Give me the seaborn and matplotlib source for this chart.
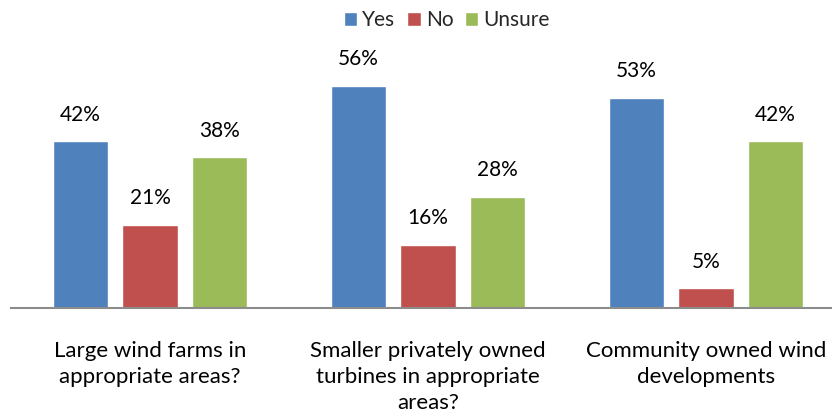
import matplotlib
matplotlib.use("Agg")
import matplotlib.pyplot as plt
import seaborn as sns
import pandas as pd

categories = [
    "Large wind farms in\nappropriate areas?",
    "Smaller privately owned\nturbines in appropriate\nareas?",
    "Community owned wind\ndevelopments",
]
answers = ["Yes", "No", "Unsure"]
yes_pct = [42, 56, 53]
no_pct = [21, 16, 5]
unsure_pct = [38, 28, 42]
colors = ["#4F81BD", "#C0504D", "#9BBB59"]

rows = []
for i, cat in enumerate(categories):
    for ans, vals in zip(answers, [yes_pct, no_pct, unsure_pct]):
        rows.append({"category": cat, "answer": ans, "pct": vals[i]})
df = pd.DataFrame(rows)

sns.set_theme(style="white")
plt.rcParams["font.family"] = ["Lato", "DejaVu Sans"]

fig = plt.figure(figsize=(8.32, 4.17), dpi=100)
ax = fig.add_axes([11 / 832, 1 - 308 / 417, 821 / 832, 238 / 417])

sns.barplot(data=df, x="category", y="pct", hue="answer", order=categories,
            hue_order=answers, palette=colors, width=0.75, gap=0.2,
            saturation=1, ax=ax, legend=True)

for cont in ax.containers:
    ax.bar_label(cont, labels=[f"{int(v)}%" for v in cont.datavalues],
                 padding=12, fontsize=15, color="#000000")

ax.set_xlim(-0.5, -0.5 + 821 / 278)
ax.set_ylim(0, 60)
ax.set_xlabel("")
ax.set_ylabel("")
ax.set_yticks([])
ax.tick_params(axis="x", length=0, pad=24, labelsize=16, colors="#000000")
for lbl in ax.get_xticklabels():
    lbl.set_linespacing(1.35)
for side in ["top", "right", "left"]:
    ax.spines[side].set_visible(False)
ax.spines["bottom"].set_color("#8C8C8C")
ax.spines["bottom"].set_linewidth(1.5)

handles, labels = ax.get_legend_handles_labels()
ax.legend_.remove()
fig.legend(handles, labels, loc="center", bbox_to_anchor=(0.537, 1 - 20 / 417),
           ncol=3, frameon=False, fontsize=15, handlelength=0.65, handleheight=0.65,
           handletextpad=0.25, columnspacing=0.55)

fig.savefig("out.png", dpi=100)
